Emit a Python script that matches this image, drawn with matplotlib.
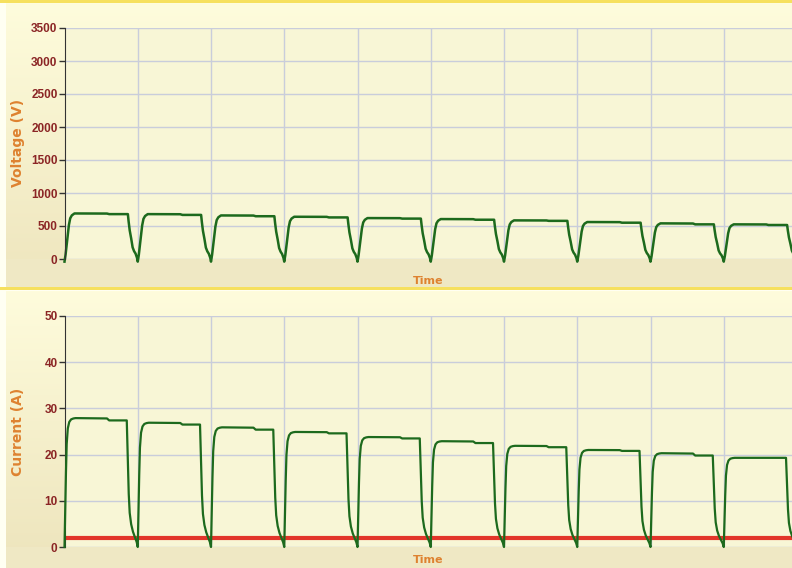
#!/usr/bin/env python3
"""
Pulsed discharge log: voltage and current over ten charge cycles.
"""

import numpy as np
import matplotlib.pyplot as plt

# --- per-cycle readings -------------------------------------------------
cycles = list(range(10))
voltage_start = [690, 680, 660, 640, 620, 605, 585, 560, 540, 525]
voltage_end = [680, 668, 648, 630, 612, 595, 578, 550, 525, 515]
voltage_min = -40

current_start = [27.9, 26.9, 25.9, 24.9, 23.8, 22.9, 21.9, 21.0, 20.3, 19.3]
current_end = [27.4, 26.5, 25.4, 24.6, 23.5, 22.5, 21.6, 20.8, 19.8, 19.3]
current_min = 0.0
current_limit = 2.0

# pulse outline inside one cycle: (phase, fraction of plateau above the minimum)
v_rise_phase = [0.0, 0.015, 0.03, 0.045, 0.06, 0.078, 0.10, 0.136]
v_rise_frac = [0.0, 0.15, 0.35, 0.56, 0.76, 0.90, 0.96, 1.0]
v_fall_phase = [0.865, 0.875, 0.89, 0.91, 0.93, 0.95, 0.97, 0.99, 1.0]
v_fall_frac = [1.0, 0.85, 0.66, 0.49, 0.30, 0.22, 0.17, 0.08, 0.0]

i_rise_phase = [0.0, 0.01, 0.02, 0.03, 0.045, 0.065, 0.09, 0.12, 0.15]
i_rise_frac = [0.0, 0.30, 0.58, 0.80, 0.92, 0.97, 0.99, 0.997, 1.0]
i_fall_phase = [0.85, 0.858, 0.867, 0.877, 0.89, 0.91, 0.935, 0.96, 0.985, 1.0]
i_fall_frac = [1.0, 0.82, 0.60, 0.42, 0.27, 0.18, 0.12, 0.08, 0.04, 0.0]

step_phase = (0.58, 0.61)

yticks_v = [0, 500, 1000, 1500, 2000, 2500, 3000, 3500]
yticks_i = [0, 10, 20, 30, 40, 50]

W, H = 792, 568
GREEN = '#1d6a1d'
TICK_RED = '#8b2525'
LABEL_ORANGE = '#de8230'
GRID = '#c9cddb'


def trace(starts, ends, lo, rise_p, rise_f, fall_p, fall_f):
    """Join the vertices of every cycle into one polyline."""
    t, y = [], []
    for k, (s, e) in enumerate(zip(starts, ends)):
        for p, f in zip(rise_p, rise_f):
            t.append(k + p)
            y.append(lo + f * (s - lo))
        t += [k + step_phase[0], k + step_phase[1]]
        y += [s - 0.15 * (s - e), e]
        for p, f in zip(fall_p[:-1], fall_f[:-1]):
            t.append(k + p)
            y.append(lo + f * (e - lo))
    t.append(len(starts))
    y.append(lo)
    return t, y


def panel_background(top, bottom, c_top, c_bot):
    a = np.array([int(c_top[i:i + 2], 16) for i in (1, 3, 5)]) / 255
    b = np.array([int(c_bot[i:i + 2], 16) for i in (1, 3, 5)]) / 255
    f = np.linspace(0, 1, bottom - top)[:, None]
    return a + (b - a) * f


fig = plt.figure(figsize=(W / 100, H / 100), dpi=100)
fig.patch.set_facecolor('#fffff2')

# backdrop: two gradient panels with yellow separators
bg = np.ones((H, W, 3)) * np.array([1.0, 1.0, 0.95])
bg[3:288, 6:] = panel_background(3, 288, '#fefcdc', '#eee5bd')[:, None, :]
bg[291:, 6:] = panel_background(291, H, '#fefcdc', '#ede4bc')[:, None, :]
bg[259:288, 6:] = np.array([0xef, 0xe8, 0xc4]) / 255
bg[547:, 6:] = np.array([0xef, 0xe8, 0xc4]) / 255
for y0 in (0, 287):
    bg[y0:y0 + 3, :] = np.array([0xf6, 0xe0, 0x5e]) / 255
ax_bg = fig.add_axes([0, 0, 1, 1], zorder=-10)
ax_bg.imshow(bg, aspect='auto', extent=[0, W, H, 0])
ax_bg.axis('off')

x0_px, period_px = 64.5, 73.25
xmax = (W - x0_px) / period_px


def style_axes(ax, ticks, label, label_y):
    ax.set_facecolor('#f8f6d6')
    ax.set_xlim(0, xmax)
    ax.set_ylim(ticks[0], ticks[-1])
    ax.set_yticks(ticks)
    ax.set_xticks(np.arange(1, 10))
    ax.tick_params(axis='x', length=0, labelbottom=False)
    ax.tick_params(axis='y', length=4, width=1, color='#333333', pad=1,
                   labelcolor=TICK_RED)
    for lab in ax.get_yticklabels():
        lab.set_fontfamily('Liberation Sans')
        lab.set_fontweight('bold')
        lab.set_fontsize(8.5)
    ax.grid(True, color=GRID, linewidth=1)
    ax.set_axisbelow(True)
    for side in ('top', 'right', 'bottom'):
        ax.spines[side].set_visible(False)
    ax.spines['left'].set_color('#333333')
    fig.text(18 / W, 1 - label_y / H, label, rotation=90, ha='center',
             va='center', color=LABEL_ORANGE, fontsize=10, fontweight='bold')


plot_h = 231 / H
ax_v = fig.add_axes([x0_px / W, 1 - 259 / H, 1 - x0_px / W, plot_h])
ax_i = fig.add_axes([x0_px / W, 1 - 547 / H, 1 - x0_px / W, plot_h])

style_axes(ax_v, yticks_v, 'Voltage (V)', 143)
style_axes(ax_i, yticks_i, 'Current (A)', 432)

tv, yv = trace(voltage_start, voltage_end, voltage_min,
               v_rise_phase, v_rise_frac, v_fall_phase, v_fall_frac)
ax_v.plot(tv, yv, color=GREEN, linewidth=1.8, clip_on=False)

ti, yi = trace(current_start, current_end, current_min,
               i_rise_phase, i_rise_frac, i_fall_phase, i_fall_frac)
ax_i.axhline(current_limit, color='#e2352a', linewidth=3, zorder=2)
ax_i.plot(ti, yi, color=GREEN, linewidth=1.6, zorder=3, clip_on=False)

for y_px in (281, 560):
    fig.text((x0_px + W) / 2 / W, 1 - y_px / H, 'Time', ha='center',
             va='center', color=LABEL_ORANGE, fontsize=8, fontweight='bold')

fig.savefig('out.png', dpi=100)
